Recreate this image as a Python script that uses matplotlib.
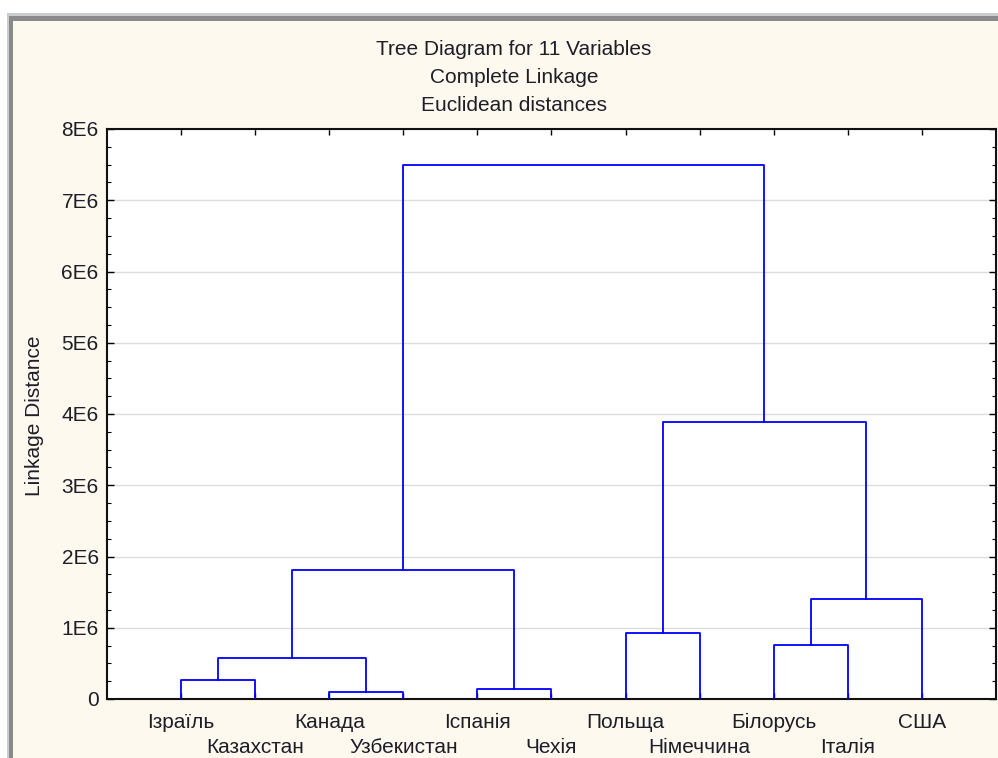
import matplotlib.pyplot as plt
from matplotlib.patches import Rectangle
from matplotlib.ticker import MultipleLocator

plt.rcParams['font.family'] = ['Liberation Sans', 'DejaVu Sans']

# листки дендрограми (порядок зліва направо)
labels = ['Ізраїль', 'Казахстан', 'Канада', 'Узбекистан', 'Іспанія', 'Чехія',
          'Польща', 'Німеччина', 'Білорусь', 'Італія', 'США']

# об'єднання: (лівий вузол, правий вузол, відстань); листки 1..11, кластери 12+
merge_left = [1, 3, 12, 5, 14, 7, 9, 18, 17, 16]
merge_right = [2, 4, 13, 6, 15, 8, 10, 11, 19, 20]
merge_dist = [0.27e6, 0.10e6, 0.57e6, 0.14e6, 1.81e6, 0.93e6, 0.76e6, 1.41e6, 3.89e6, 7.50e6]

bg = '#fef9ee'
txt = '#1e1e28'
fig = plt.figure(figsize=(9.98, 7.58), dpi=100)
fig.patch.set_facecolor('white')

# рамка вікна
fig.add_artist(Rectangle((7 / 998, 0), 1, 1 - 12.5 / 758, transform=fig.transFigure,
                         facecolor='#c9ccd1', edgecolor='none', zorder=0))
fig.add_artist(Rectangle((8.5 / 998, 0), 1, 1 - 16 / 758, transform=fig.transFigure,
                         facecolor='#8a8a8a', edgecolor='none', zorder=0))
fig.add_artist(Rectangle((12.7 / 998, 0), 1, 1 - 20.7 / 758, transform=fig.transFigure,
                         facecolor=bg, edgecolor='none', zorder=0))

ax = fig.add_axes([107 / 998, 1 - 699 / 758, 889 / 998, 570 / 758])
ax.set_facecolor('white')

# координати вузлів
xpos = {i + 1: i + 1 for i in range(len(labels))}
ypos = {i + 1: 0.0 for i in range(len(labels))}
for k, (a, b, d) in enumerate(zip(merge_left, merge_right, merge_dist)):
    node = len(labels) + 1 + k
    xa, xb = xpos[a], xpos[b]
    ax.plot([xa, xa, xb, xb], [ypos[a], d, d, ypos[b]], color='#0000ff', lw=1.3, zorder=3)
    xpos[node] = (xa + xb) / 2
    ypos[node] = d

ax.set_xlim(0, 12)
ax.set_ylim(0, 8e6)
ax.set_xticks(range(1, len(labels) + 1))
ax.set_xticklabels([])
ax.tick_params(axis='x', which='major', direction='in', top=True, bottom=True, length=4, width=1)
for i, lab in enumerate(labels):
    dy = -29 if i % 2 == 0 else -54
    ax.annotate(lab, xy=(i + 1, 0), xycoords=('data', 'axes fraction'),
                xytext=(0, dy), textcoords='offset pixels', ha='center', va='baseline',
                fontsize=15, color=txt, annotation_clip=False)

ax.yaxis.set_minor_locator(MultipleLocator(0.25e6))
ax.set_yticks([i * 1e6 for i in range(9)])
ax.set_yticklabels(['0'] + ['%dE6' % i for i in range(1, 9)], fontsize=15, color=txt)
ax.tick_params(axis='y', which='major', direction='in', left=True, right=True, length=5, width=1, pad=6)
ax.tick_params(axis='y', which='minor', direction='in', left=True, right=True, length=3, width=0.8)
ax.grid(axis='y', which='major', color='#dddddd', lw=1)
ax.set_axisbelow(True)
for s in ax.spines.values():
    s.set_linewidth(1.5)
    s.set_color('#111111')

fig.text(34.5 / 998, 1 - 416 / 758, 'Linkage Distance', rotation=90, ha='center', va='center',
         fontsize=15, color=txt)

tx = 514 / 998
fig.text(tx, 1 - 55 / 758, 'Tree Diagram for 11 Variables', ha='center', va='baseline',
         fontsize=15, color=txt)
fig.text(tx, 1 - 83 / 758, 'Complete Linkage', ha='center', va='baseline',
         fontsize=15, color=txt)
fig.text(tx, 1 - 111 / 758, 'Euclidean distances', ha='center', va='baseline',
         fontsize=15, color=txt)

fig.savefig('out.png', dpi=100, facecolor=fig.get_facecolor())
